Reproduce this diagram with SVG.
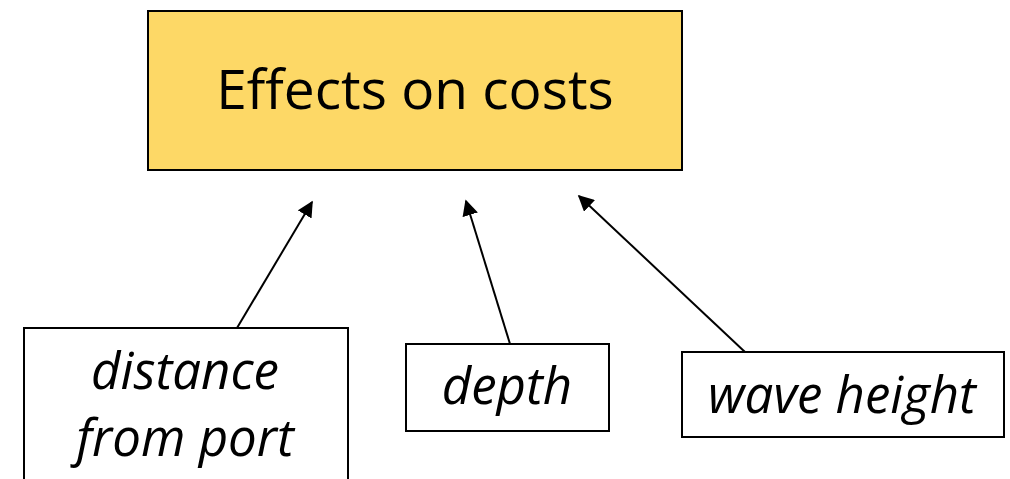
<svg xmlns="http://www.w3.org/2000/svg" width="1010" height="479" viewBox="0 0 1010 479">
  <style>
    .box { fill: #ffffff; stroke: #000000; stroke-width: 2; }
    .main { fill: #fdd866; stroke: #000000; stroke-width: 2; }
    .title { font-family: "Open Sans", "Liberation Sans", sans-serif; font-size: 55px; fill: #000; text-anchor: middle; }
    .label { font-family: "Open Sans", "Liberation Sans", sans-serif; font-style: italic; font-size: 51px; fill: #000; text-anchor: middle; }
    .edge { stroke: #000000; stroke-width: 2; fill: none; marker-end: url(#arrow); }
  </style>
  <defs>
    <marker id="arrow" viewBox="0 0 10 10" refX="9" refY="5" markerWidth="8" markerHeight="8" markerUnits="strokeWidth" orient="auto">
      <path d="M0,0 L10,5 L0,10 Z" fill="#000"/>
    </marker>
  </defs>

  <g id="effects-on-costs">
    <rect class="main" x="148" y="11" width="534" height="159"/>
    <text class="title" x="415" y="109">Effects on costs</text>
  </g>

  <g id="distance-from-port">
    <rect class="box" x="24" y="328" width="324" height="160"/>
    <text class="label" x="185" y="389">distance</text>
    <text class="label" x="185" y="456">from port</text>
  </g>

  <g id="depth">
    <rect class="box" x="406" y="344" width="203" height="87"/>
    <text class="label" x="507" y="404">depth</text>
  </g>

  <g id="wave-height">
    <rect class="box" x="682" y="352" width="322" height="85"/>
    <text class="label" x="842" y="413">wave height</text>
  </g>

  <g id="connectors">
    <line class="edge" x1="237" y1="328" x2="312" y2="202"/>
    <line class="edge" x1="510" y1="344" x2="466" y2="201"/>
    <line class="edge" x1="745" y1="352" x2="579" y2="196"/>
  </g>
</svg>
